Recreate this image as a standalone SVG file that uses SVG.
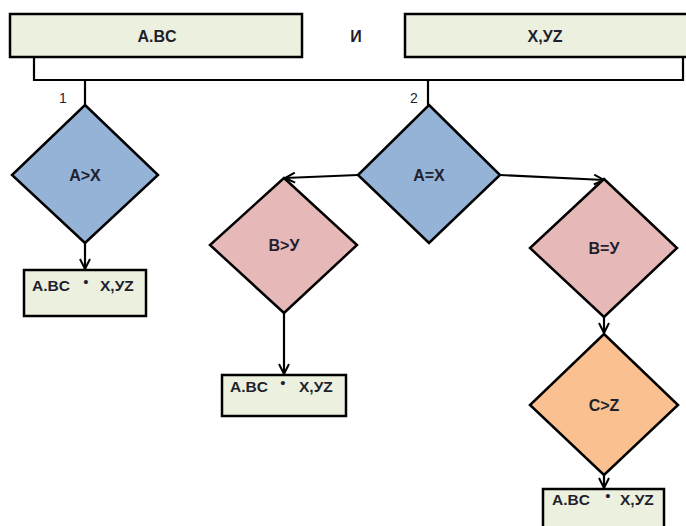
<svg xmlns="http://www.w3.org/2000/svg" width="686" height="526" viewBox="0 0 686 526">
<defs>
<style>
.box{fill:#ebf1de;stroke:#000;stroke-width:2.5}
.dia{stroke:#000;stroke-width:2.5}
.blue{fill:#95b3d7}.pink{fill:#e6b9b8}.orange{fill:#fac090}
.t{font-family:"Liberation Sans",Arial,sans-serif;font-weight:bold;font-size:16px;fill:#1f1f2e;text-anchor:middle}
.r{font-family:"Liberation Sans",Arial,sans-serif;font-weight:bold;font-size:15.5px;fill:#1f1f2e}
.dot{font-family:"Liberation Sans",Arial,sans-serif;font-size:15px;fill:#1f1f2e;text-anchor:middle}
.n{font-family:"Liberation Sans",Arial,sans-serif;font-size:14px;fill:#1f1f2e;text-anchor:middle}
.c{fill:none;stroke:#000;stroke-width:2.2}
</style>
<marker id="ar" viewBox="0 0 12 12" refX="11" refY="6" markerWidth="12" markerHeight="12" markerUnits="userSpaceOnUse" orient="auto">
<path d="M1,1 L11,6 L1,11" fill="none" stroke="#000" stroke-width="2"/>
</marker>
</defs>
<g id="box-abc"><rect class="box" x="10" y="14" width="292" height="43"/><text class="t" x="157" y="42">A.BC</text></g>
<g id="label-and"><text class="t" x="356" y="42">И</text></g>
<g id="box-xyz"><rect class="box" x="405" y="14" width="290" height="43"/><text class="t" x="545" y="42">X,УZ</text></g>
<g id="connectors">
<path class="c" d="M34,57 V80 H683 V57"/>
<path class="c" d="M85,80 V105"/>
<path class="c" d="M428,80 V105"/>
<path class="c" d="M85,243 V269" marker-end="url(#ar)"/>
<path class="c" d="M358,175 L285,178" marker-end="url(#ar)"/>
<path class="c" d="M500,175 L604,180" marker-end="url(#ar)"/>
<path class="c" d="M284,313 V374" marker-end="url(#ar)"/>
<path class="c" d="M604,317 V333" marker-end="url(#ar)"/>
<path class="c" d="M604,475 V488" marker-end="url(#ar)"/>
<text class="n" x="63" y="103">1</text>
<text class="n" x="414" y="103">2</text>
</g>
<g id="d-a-gt-x"><polygon class="dia blue" points="85,105 158,175 85,243 12,175"/><text class="t" x="85" y="181">A&gt;X</text></g>
<g id="res-1"><rect class="box" x="24" y="270" width="122" height="46"/><text class="r" x="32" y="291">A.BC</text><text class="dot" x="86" y="287">•</text><text class="r" x="100" y="291">X,УZ</text></g>
<g id="d-a-eq-x"><polygon class="dia blue" points="429,105 500,175 429,243 358,175"/><text class="t" x="429" y="181">A=X</text></g>
<g id="d-b-gt-y"><polygon class="dia pink" points="284,178 357,245 284,313 210,245"/><text class="t" x="284" y="251">B&gt;У</text></g>
<g id="res-2"><rect class="box" x="222" y="375" width="124" height="41"/><text class="r" x="230" y="392">A.BC</text><text class="dot" x="283" y="388">•</text><text class="r" x="299" y="392">X,УZ</text></g>
<g id="d-b-eq-y"><polygon class="dia pink" points="604,179 677,248 604,317 530,248"/><text class="t" x="604" y="254">B=У</text></g>
<g id="d-c-gt-z"><polygon class="dia orange" points="604,334 678,405 604,475 530,405"/><text class="t" x="604" y="411">C&gt;Z</text></g>
<g id="res-3"><rect class="box" x="543" y="489" width="121" height="45"/><text class="r" x="552" y="505">A.BC</text><text class="dot" x="608" y="501">•</text><text class="r" x="620" y="505">X,УZ</text></g>
</svg>
